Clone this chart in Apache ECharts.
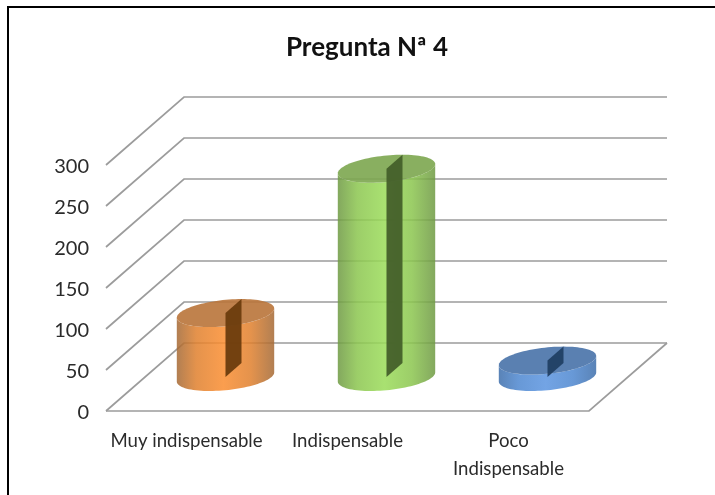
<!DOCTYPE html>
<html>
<head>
<meta charset="utf-8">
<style>html,body{margin:0;padding:0;background:#fff}#chart{width:715px;height:495px}</style>
<script src="https://cdn.jsdelivr.net/npm/echarts@6/dist/echarts.min.js"></script>
</head>
<body>
<div id="chart"></div>
<script>
const chartTitle = 'Pregunta Nª 4';
const categories = ['Muy indispensable', 'Indispensable', 'Poco\nIndispensable'];
const responses = [78, 254, 20];
const gridTicks = [0, 50, 100, 150, 200, 250, 300];

// Oblique projection of the chart box and the cylinder footprint, in pixels
const DEPTH_X = 78, DEPTH_Y = -68;
const RADIUS_A = 46, RADIUS_B = 16, RADIUS_C = 14;
const palette = [
  { edge: '#a56a36', mid: '#e0812f', glow: '#fa8e32', top: '#b9743a', slit: '#6b3c0d' },
  { edge: '#6f9a44', mid: '#8cc650', glow: '#9bdc5a', top: '#7ca64f', slit: '#44602a' },
  { edge: '#3f6fab', mid: '#4f88d0', glow: '#5c95e0', top: '#4872a8', slit: '#213f64' }
];

function wallLines(params, api) {
  const rect = params.coordSys;
  const tick = api.value(1);
  const p = api.coord([0, tick]);
  const y = p[1], x0 = rect.x, x1 = rect.x + rect.width;
  const style = { stroke: '#9c9c9c', lineWidth: 1.7, fill: null };
  const pts = [[x0, y], [x0 + DEPTH_X, y + DEPTH_Y], [x1 + DEPTH_X, y + DEPTH_Y]];
  const children = [{ type: 'polyline', shape: { points: pts }, style }];
  if (tick === 0) {
    // The floor closes the box on its front and right sides
    children.push({
      type: 'polyline',
      shape: { points: [[x0, y], [x1, y], [x1 + DEPTH_X, y + DEPTH_Y]] },
      style
    });
  }
  return { type: 'group', children };
}

function cylinder(params, api) {
  const i = api.value(0);
  const tone = palette[i];
  const topPoint = api.coord([i, api.value(1)]);
  const basePoint = api.coord([i, 0]);
  const cx = topPoint[0] + DEPTH_X / 2;
  const baseY = basePoint[1] + DEPTH_Y / 2;
  const topY = topPoint[1] + DEPTH_Y / 2;
  const at = (t, cy) => [
    cx + RADIUS_A * Math.cos(t) + RADIUS_B * Math.sin(t),
    cy - RADIUS_C * Math.sin(t)
  ];
  const lean = Math.atan2(RADIUS_B, RADIUS_A);
  const steps = 48;
  const front = [], rim = [], cap = [];
  for (let s = 0; s <= steps; s++) {
    const t = Math.PI + lean + (Math.PI * s) / steps;
    front.push(at(t, baseY));
    rim.unshift(at(t, topY));
  }
  for (let s = 0; s < steps * 2; s++) cap.push(at((Math.PI * s) / steps, topY));
  const sideFill = new echarts.graphic.LinearGradient(0, 0, 1, 0, [
    { offset: 0, color: tone.edge },
    { offset: 0.2, color: tone.mid },
    { offset: 0.48, color: tone.glow },
    { offset: 0.76, color: tone.mid },
    { offset: 1, color: tone.edge }
  ]);
  const slit = [
    [cx, topY],
    [cx + RADIUS_B, topY - RADIUS_C],
    [cx + RADIUS_B, baseY - RADIUS_C],
    [cx, baseY]
  ];
  return {
    type: 'group',
    children: [
      { type: 'polygon', shape: { points: front.concat(rim) }, style: { fill: sideFill, opacity: 0.86 } },
      { type: 'polygon', shape: { points: cap }, style: { fill: tone.top, opacity: 0.9 } },
      { type: 'polygon', shape: { points: slit }, style: { fill: tone.slit, opacity: 0.95 } }
    ]
  };
}

const chart = echarts.init(document.getElementById('chart'), null, { renderer: 'canvas' });
chart.setOption({
  animation: false,
  backgroundColor: '#ffffff',
  title: {
    text: chartTitle,
    left: 362, top: 30, textAlign: 'center',
    textStyle: { fontFamily: 'Lato', fontSize: 26, fontWeight: 'bold', color: '#111111' }
  },
  graphic: [{
    type: 'polyline',
    silent: true,
    shape: { points: [[8, 495], [8, 7], [715, 7]] },
    style: { stroke: '#000000', lineWidth: 2, fill: null }
  }],
  grid: { left: 106, right: 126, top: 165, bottom: 84 },
  xAxis: {
    type: 'category',
    data: categories,
    axisLine: { show: false },
    axisTick: { show: false },
    splitLine: { show: false },
    axisLabel: {
      interval: 0, margin: 16, lineHeight: 28,
      fontFamily: 'Lato', fontSize: 18.6, color: '#2b2b2b'
    }
  },
  yAxis: {
    type: 'value',
    min: 0, max: 300, interval: 50,
    axisLine: { show: false },
    axisTick: { show: false },
    splitLine: { show: false },
    axisLabel: {
      margin: 17, verticalAlign: 'top', lineHeight: 4,
      fontFamily: 'Lato', fontSize: 20, color: '#2b2b2b'
    }
  },
  series: [
    {
      type: 'custom',
      silent: true,
      renderItem: wallLines,
      encode: { x: 0, y: 1 },
      data: gridTicks.map(t => [0, t]),
      z: 1
    },
    {
      type: 'custom',
      silent: true,
      renderItem: cylinder,
      encode: { x: 0, y: 1 },
      data: responses.map((v, i) => [i, v]),
      z: 2
    }
  ]
});
</script>
</body>
</html>
